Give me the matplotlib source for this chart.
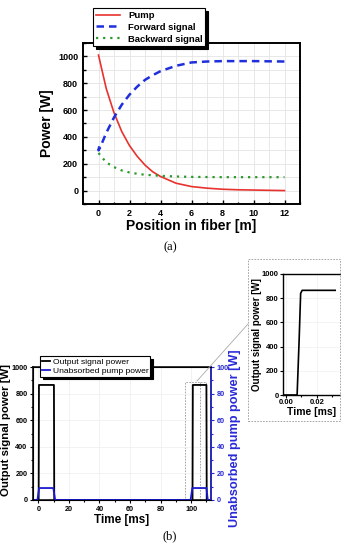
import numpy as np
import matplotlib
matplotlib.use("Agg")
import matplotlib.pyplot as plt
from matplotlib.patches import Rectangle
from matplotlib.lines import Line2D
from matplotlib.ticker import MultipleLocator

plt.rcParams['font.family'] = ['Liberation Sans', 'DejaVu Sans']

# ---- panel (a): power along the fiber
pos_pump = [0, 0.5, 1, 1.5, 2, 2.5, 3, 3.5, 4, 5, 6, 7, 8, 9, 10, 11, 12]
pump = [1010, 760, 580, 440, 335, 255, 190, 140, 105, 55, 30, 18, 10, 6, 4, 2, 0]
pos_fwd = [0.05, 0, 0.1, 0.5, 1, 1.5, 2, 2.5, 3, 3.5, 4, 5, 6, 7, 8, 10, 12]
forward = [330, 300, 320, 430, 545, 640, 715, 775, 825, 860, 890, 930, 955, 962, 965, 965, 962]
pos_bwd = [0, 0.5, 1, 1.5, 2, 2.5, 3, 4, 5, 6, 8, 12]
backward = [280, 210, 175, 150, 135, 125, 118, 110, 105, 102, 100, 100]

# ---- panel (b): pulsed operation
t_sig = [-1, 0.2, 0.4, 10.2, 10.4, 100.9, 101.1, 110.0, 110.2, 113]
sig = [0, 0, 865, 865, 0, 0, 865, 865, 0, 0]
t_pump = [-2, -0.6, 0.5, 9.8, 11.0, 99.6, 100.8, 110.0, 110.9, 113]
pump_out = [0, 0, 9, 9, 0, 0, 9, 9, 0, 0]

# ---- inset: rising edge of the signal
t_zoom = [-0.002, 0.0072, 0.0085, 0.0095, 0.0105, 0.032]
sig_zoom = [0, 0, 450, 840, 865, 865]

W, H = 341, 544
fig = plt.figure(figsize=(W / 100, H / 100), dpi=100)

def box(l, t, r, b):
    return [l / W, 1 - b / H, (r - l) / W, (b - t) / H]

# panel (a)
ax = fig.add_axes(box(83, 43, 300, 204))
ax.plot(pos_pump, pump, color='#e8322e', lw=1.2, label='Pump')
ax.plot(pos_fwd, forward, color='#1f2fdc', lw=1.8, ls=(0, (3, 2)), label='Forward signal')
ax.plot(pos_bwd, backward, color='#2a9a2a', lw=1.6, ls=(0, (1, 2.2)), label='Backward signal')
ax.set_xlim(-1, 13)
ax.set_ylim(-100, 1100)
ax.set_xticks(range(0, 13, 2))
ax.set_yticks(range(0, 1001, 200))
ax.xaxis.set_minor_locator(MultipleLocator(1))
ax.yaxis.set_minor_locator(MultipleLocator(100))
ax.grid(True, which='both', color='#e4e4e4', lw=0.6)
ax.tick_params(which='both', direction='in', width=1, length=3, labelsize=6.5)
ax.tick_params(which='minor', length=1.8)
for lab in ax.get_xticklabels() + ax.get_yticklabels():
    lab.set_fontweight('bold')
for s in ax.spines.values():
    s.set_linewidth(1.4)
ax.set_ylabel('Power [W]', fontsize=10, fontweight='bold', labelpad=3)
ax.set_xlabel('Position in fiber [m]', fontsize=10, fontweight='semibold', labelpad=1)
leg = ax.legend(loc='upper left', bbox_to_anchor=(93 / W, 1 - 8 / H), bbox_transform=fig.transFigure,
                prop=dict(size=6.8, weight='bold'), frameon=True, fancybox=False,
                shadow=dict(color='black', alpha=1), handlelength=2.6, borderpad=0.3,
                labelspacing=0.3, borderaxespad=0)
leg.get_frame().set_edgecolor('black')
leg.get_frame().set_linewidth(0.8)
leg.set_zorder(10)
fig.text(170 / W, 1 - 247 / H, '(a)', family='Liberation Serif', fontsize=9, ha='center', va='center')

# panel (b)
bx = fig.add_axes(box(33, 367, 211, 500))
bx.plot(t_sig, sig, color='black', lw=1.3)
bx.set_xlim(-3.5, 113)
bx.set_ylim(0, 1000)
bx.set_xticks(range(0, 101, 20))
bx.set_yticks(range(0, 1001, 200))
bx.xaxis.set_minor_locator(MultipleLocator(10))
bx.yaxis.set_minor_locator(MultipleLocator(100))
bx.grid(True, which='major', color='#f0f0f0', lw=0.6)
bx.tick_params(which='both', direction='out', width=0.8, length=2.5, labelsize=5.2, pad=1.5)
bx.tick_params(which='minor', length=1.5)
for lab in bx.get_xticklabels() + bx.get_yticklabels():
    lab.set_fontweight('bold')
for s in bx.spines.values():
    s.set_linewidth(1.1)
bx.set_xlabel('Time [ms]', fontsize=8.5, fontweight='bold', labelpad=1)
bx.set_ylabel('Output signal power [W]', fontsize=8.2, fontweight='bold')
bx.yaxis.set_label_coords(-0.125, 0.53)

bx2 = bx.twinx()
bx2.plot(t_pump, pump_out, color='#1a1ad0', lw=1.3)
bx2.set_ylim(0, 100)
bx2.set_yticks(range(0, 101, 20))
bx2.yaxis.set_minor_locator(MultipleLocator(10))
bx2.tick_params(which='both', direction='out', width=0.8, length=2.5, labelsize=5.2, pad=1.5,
                colors='#2a2ad8')
bx2.tick_params(which='minor', length=1.5)
for lab in bx2.get_yticklabels():
    lab.set_fontweight('bold')
bx2.spines['right'].set_color('#2a2ad8')
bx2.spines['right'].set_linewidth(1.1)
bx2.set_ylabel('Unabsorbed pump power [W]', fontsize=9.2, fontweight='bold', color='#2a2ad8')
bx2.yaxis.set_label_coords(1.101, 0.466)

handles = [Line2D([], [], color='black', lw=1.3), Line2D([], [], color='#1a1ad0', lw=1.3)]
leg2 = bx2.legend(handles, ['Output signal power', 'Unabsorbed pump power'], loc='upper left',
                  bbox_to_anchor=(40 / W, 1 - 356 / H), bbox_transform=fig.transFigure,
                  prop=dict(size=6.1), frameon=True, fancybox=False,
                  shadow=dict(color='black', alpha=1), handlelength=1.0, handletextpad=0.3,
                  borderpad=0.2, labelspacing=0.15, borderaxespad=0)
leg2.get_frame().set_edgecolor('black')
leg2.get_frame().set_linewidth(0.8)

# zoom marker on the second pulse
bx.add_patch(Rectangle((96.2, 0), 13.8, 887, fill=False, ls=(0, (2, 1.5)), lw=0.6, ec='#999999', zorder=1))
bx.plot([106, 106], [0, 887], ls=(0, (2, 1.5)), lw=0.6, color='#999999', zorder=1)
fig.text(170 / W, 1 - 536 / H, '(b)', family='Liberation Serif', fontsize=9, ha='center', va='center')

# inset
fig.add_artist(Rectangle((248 / W, 1 - 421 / H), 92 / W, 162 / H, transform=fig.transFigure,
                         fill=False, ls=(0, (2, 1.5)), lw=0.6, ec='#999999'))
fig.add_artist(Line2D([197 / W, 248 / W], [1 - 381 / H, 1 - 324 / H], transform=fig.transFigure,
                      lw=0.6, color='#aaaaaa'))
ix = fig.add_axes(box(283, 274, 341, 395))
ix.plot(t_zoom, sig_zoom, color='black', lw=1.2)
ix.set_xlim(-0.002, 0.0358)
ix.set_ylim(0, 1000)
ix.set_xticks([0, 0.02])
ix.set_xticklabels(['0.00', '0.02'])
ix.set_yticks(range(0, 1001, 200))
ix.xaxis.set_minor_locator(MultipleLocator(0.01))
ix.tick_params(which='both', direction='out', width=0.8, length=2, labelsize=5.5, pad=1)
ix.tick_params(which='minor', length=1.2)
ix.grid(True, color='#f0f0f0', lw=0.5)
for lab in ix.get_xticklabels() + ix.get_yticklabels():
    lab.set_fontweight('bold')
ix.spines['right'].set_visible(False)
for s in ix.spines.values():
    s.set_linewidth(1.0)
ix.set_xlabel('Time [ms]', fontsize=7.5, fontweight='bold', labelpad=0.5)
ix.set_ylabel('Output signal power [W]', fontsize=7, fontweight='bold')
ix.yaxis.set_label_coords(-0.36, 0.5)

fig.savefig('out.png', dpi=100)
